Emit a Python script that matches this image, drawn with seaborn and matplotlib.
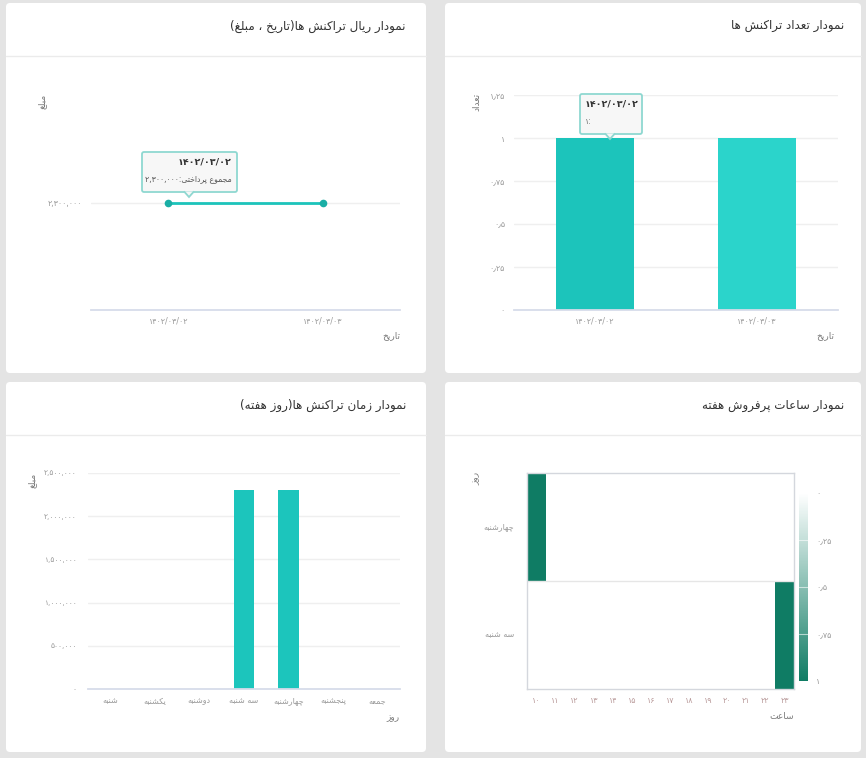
import matplotlib
matplotlib.use("Agg")
import matplotlib.pyplot as plt
from matplotlib.patches import FancyBboxPatch, Polygon
from matplotlib.colors import LinearSegmentedColormap
import seaborn as sns
import pandas as pd
import numpy as np

# ---------------- data ----------------
dates = ["۱۴۰۲/۰۳/۰۲", "۱۴۰۲/۰۳/۰۳"]
amount_by_date = [2300000, 2300000]
count_by_date = [1, 1]
weekdays = ["شنبه", "یکشنبه", "دوشنبه", "سه شنبه", "چهارشنبه", "پنجشنبه", "جمعه"]
amount_by_weekday = [0, 0, 0, 2300000, 2300000, 0, 0]
heat_days = ["چهارشنبه", "سه شنبه"]
heat_hours = [10, 11, 12, 13, 14, 15, 16, 17, 18, 19, 20, 21, 22, 23]
heat_values = [
    [1, 0, 0, 0, 0, 0, 0, 0, 0, 0, 0, 0, 0, 0],
    [0, 0, 0, 0, 0, 0, 0, 0, 0, 0, 0, 0, 0, 1],
]
count_ticks = [0, 0.25, 0.5, 0.75, 1, 1.25]
amount_ticks = [0, 500000, 1000000, 1500000, 2000000, 2500000]
cbar_ticks = [0, 0.25, 0.5, 0.75, 1]

titles = {
    "tl": "نمودار ریال تراکنش ها(تاریخ ، مبلغ)",
    "tr": "نمودار تعداد تراکنش ها",
    "bl": "نمودار زمان تراکنش ها(روز هفته)",
    "br": "نمودار ساعات پرفروش هفته",
}

# ---------------- minimal Persian shaping ----------------
FORMS = {
    'ا': ('\uFE8D', '\uFE8E', None, None),
    'آ': ('\uFE81', '\uFE82', None, None),
    'ب': ('\uFE8F', '\uFE90', '\uFE91', '\uFE92'),
    'پ': ('\uFB56', '\uFB57', '\uFB58', '\uFB59'),
    'ت': ('\uFE95', '\uFE96', '\uFE97', '\uFE98'),
    'ث': ('\uFE99', '\uFE9A', '\uFE9B', '\uFE9C'),
    'ج': ('\uFE9D', '\uFE9E', '\uFE9F', '\uFEA0'),
    'چ': ('\uFB7A', '\uFB7B', '\uFB7C', '\uFB7D'),
    'ح': ('\uFEA1', '\uFEA2', '\uFEA3', '\uFEA4'),
    'خ': ('\uFEA5', '\uFEA6', '\uFEA7', '\uFEA8'),
    'د': ('\uFEA9', '\uFEAA', None, None),
    'ذ': ('\uFEAB', '\uFEAC', None, None),
    'ر': ('\uFEAD', '\uFEAE', None, None),
    'ز': ('\uFEAF', '\uFEB0', None, None),
    'ژ': ('\uFB8A', '\uFB8B', None, None),
    'س': ('\uFEB1', '\uFEB2', '\uFEB3', '\uFEB4'),
    'ش': ('\uFEB5', '\uFEB6', '\uFEB7', '\uFEB8'),
    'ص': ('\uFEB9', '\uFEBA', '\uFEBB', '\uFEBC'),
    'ع': ('\uFEC9', '\uFECA', '\uFECB', '\uFECC'),
    'غ': ('\uFECD', '\uFECE', '\uFECF', '\uFED0'),
    'ف': ('\uFED1', '\uFED2', '\uFED3', '\uFED4'),
    'ق': ('\uFED5', '\uFED6', '\uFED7', '\uFED8'),
    'ک': ('\uFB8E', '\uFB8F', '\uFB90', '\uFB91'),
    'گ': ('\uFB92', '\uFB93', '\uFB94', '\uFB95'),
    'ل': ('\uFEDD', '\uFEDE', '\uFEDF', '\uFEE0'),
    'م': ('\uFEE1', '\uFEE2', '\uFEE3', '\uFEE4'),
    'ن': ('\uFEE5', '\uFEE6', '\uFEE7', '\uFEE8'),
    'ه': ('\uFEE9', '\uFEEA', '\uFEEB', '\uFEEC'),
    'و': ('\uFEED', '\uFEEE', None, None),
    'ی': ('\uFBFC', '\uFBFD', '\uFBFE', '\uFBFF'),
}
LTR = set("0123456789۰۱۲۳۴۵۶۷۸۹,./٫٬")


def fa(text):
    if not any(c in FORMS for c in text):
        return text
    out = []
    n = len(text)
    for i, c in enumerate(text):
        if c not in FORMS:
            out.append(c)
            continue
        prev = text[i - 1] if i > 0 else None
        nxt = text[i + 1] if i + 1 < n else None
        jp = prev in FORMS and FORMS[prev][2] is not None
        jn = nxt in FORMS and FORMS[c][2] is not None
        iso, fin, ini, med = FORMS[c]
        if jp and jn:
            out.append(med)
        elif jp:
            out.append(fin)
        elif jn:
            out.append(ini)
        else:
            out.append(iso)
    s = "".join(out)
    runs = []
    for ch in s:
        kind = ch in LTR
        if runs and runs[-1][0] == kind:
            runs[-1][1].append(ch)
        else:
            runs.append([kind, [ch]])
    res = []
    for kind, chars in reversed(runs):
        if kind:
            res.append("".join(chars))
        else:
            swap = {"(": ")", ")": "("}
            res.append("".join(swap.get(c, c) for c in reversed(chars)))
    return "".join(res)


FA_DIG = str.maketrans("0123456789", "۰۱۲۳۴۵۶۷۸۹")


def fnum(v):
    if float(v).is_integer():
        s = f"{int(v):,}"
    else:
        s = f"{v:g}"
    return s.translate(FA_DIG).replace(".", "٫")


# ---------------- figure ----------------
W, H = 866, 758
sns.set_style("white")
plt.rcParams["font.family"] = ["DejaVu Sans"]
fig = plt.figure(figsize=(W / 100, H / 100), dpi=100)
fig.patch.set_facecolor("#e4e4e4")
T = fig.dpi_scale_trans


def P(x, y):
    return (x / 100, (H - y) / 100)


def card(x0, y0, x1, y1, title_x, title):
    fig.patches.append(FancyBboxPatch(P(x0, y1), (x1 - x0) / 100, (y1 - y0) / 100,
                                      boxstyle="round,pad=0,rounding_size=0.04",
                                      transform=T, facecolor="white", edgecolor="none",
                                      zorder=-2))
    fig.lines.append(plt.Line2D([x0 / 100, x1 / 100], [(H - y0 - 53) / 100] * 2,
                                transform=T, color="#ebebeb", lw=1.0, zorder=-1))
    fig.text(*P(title_x, y0 + 23), fa(title), transform=T, ha="right", va="center",
             fontsize=8.6, color="#333333")


card(6, 3, 426, 373, 406, titles["tl"])
card(445, 3, 861, 373, 844, titles["tr"])
card(6, 382, 426, 752, 406, titles["bl"])
card(445, 382, 861, 752, 844, titles["br"])


def add_ax(x0, y0, x1, y1):
    return fig.add_axes([x0 / W, 1 - y1 / H, (x1 - x0) / W, (y1 - y0) / H])


TICK_C = "#9a9a9a"
LAB_C = "#7a7a7a"
GRID_C = "#efefef"
BASE_C = "#d7dcea"
TEAL = "#1cc4bb"


def style_axes(ax, ypad=6.5, size=5.8):
    for s in ["top", "right", "left"]:
        ax.spines[s].set_visible(False)
    ax.spines["bottom"].set_color(BASE_C)
    ax.spines["bottom"].set_linewidth(1.3)
    ax.tick_params(axis="both", length=0, labelsize=size, labelcolor=TICK_C)
    ax.tick_params(axis="y", pad=ypad)
    ax.tick_params(axis="x", pad=5)
    ax.grid(axis="y", color=GRID_C, lw=1.0)
    ax.set_axisbelow(True)
    ax.set_facecolor("none")


# ---- top-left: line chart ----
ax1 = add_ax(91, 95, 400, 310)
df1 = pd.DataFrame({"date": dates, "amount": amount_by_date})
sns.lineplot(data=df1, x="date", y="amount", ax=ax1, color=TEAL, lw=2,
             marker="o", markersize=5.5, markeredgewidth=0, sort=False)
for ln in ax1.lines:
    ln.set_markerfacecolor("#1aaea5")
ax1.set_xlim(-0.5, 1.5)
ax1.set_ylim(amount_by_date[0] - 1, amount_by_date[0] + 1)
ax1.set_yticks([amount_by_date[0]])
ax1.set_yticklabels([fnum(amount_by_date[0])])
style_axes(ax1)
ax1.set_xlabel(fa("تاریخ"), fontsize=6.5, color=LAB_C, ha="right")
ax1.xaxis.set_label_coords(1.0, -0.10)
ax1.set_ylabel(fa("مبلغ"), fontsize=6.5, color=LAB_C)
ax1.yaxis.set_label_coords(-0.145, 0.97)

# ---- top-right: count bar chart ----
ax2 = add_ax(514, 95, 838, 310)
df2 = pd.DataFrame({"date": dates, "count": count_by_date})
sns.barplot(data=df2, x="date", y="count", hue="date", palette=["#1cc4bb", "#2bd4cb"],
            width=0.48, ax=ax2, legend=False, linewidth=0, saturation=1)
ax2.set_ylim(0, 1.25)
ax2.set_yticks(count_ticks)
ax2.set_yticklabels([fnum(v) for v in count_ticks])
style_axes(ax2)
ax2.set_xlabel(fa("تاریخ"), fontsize=6.5, color=LAB_C, ha="right")
ax2.xaxis.set_label_coords(0.99, -0.10)
ax2.set_ylabel(fa("تعداد"), fontsize=6.5, color=LAB_C)
ax2.yaxis.set_label_coords(-0.10, 0.97)

# ---- bottom-left: weekday bar chart ----
ax3 = add_ax(88, 473, 400, 689)
df3 = pd.DataFrame({"day": [fa(d) for d in weekdays], "amount": amount_by_weekday})
sns.barplot(data=df3, x="day", y="amount", color="#1cc5bc", width=0.47, ax=ax3,
            linewidth=0, saturation=1)
ax3.set_ylim(0, 2500000)
ax3.set_yticks(amount_ticks)
ax3.set_yticklabels([fnum(v) for v in amount_ticks])
style_axes(ax3, ypad=8, size=5.4)
ax3.tick_params(axis="x", labelsize=5.8)
ax3.set_xlabel(fa("روز"), fontsize=6.5, color=LAB_C, ha="right")
ax3.xaxis.set_label_coords(1.0, -0.11)
ax3.set_ylabel(fa("مبلغ"), fontsize=6.5, color=LAB_C)
ax3.yaxis.set_label_coords(-0.165, 0.965)

# ---- bottom-right: heatmap ----
ax4 = add_ax(527, 473, 794, 689)
cax = add_ax(799, 493, 808, 681)
df4 = pd.DataFrame(heat_values, index=[fa(d) for d in heat_days],
                   columns=[fnum(h) for h in heat_hours])
cmap = LinearSegmentedColormap.from_list("g", ["#ffffff", "#0f7c64"])
sns.heatmap(df4, cmap=cmap, vmin=0, vmax=1, ax=ax4, cbar_ax=cax, linewidths=0)
for s in ax4.spines.values():
    s.set_visible(True)
    s.set_color("#d4d7dd")
    s.set_linewidth(1.0)
ax4.axhline(1, color="#e6e6e6", lw=1)
ax4.tick_params(axis="both", length=0, labelsize=5.8, labelcolor=TICK_C)
ax4.tick_params(axis="y", pad=9, rotation=0)
ax4.tick_params(axis="x", pad=5, rotation=0)
for t in ax4.get_xticklabels():
    t.set_color("#b99a9a")
ax4.set_xlabel(fa("ساعت"), fontsize=6.5, color=LAB_C, ha="right")
ax4.xaxis.set_label_coords(1.0, -0.105)
ax4.set_ylabel(fa("روز"), fontsize=6.5, color=LAB_C)
ax4.yaxis.set_label_coords(-0.175, 0.975)
cax.invert_yaxis()
cax.set_yticks(cbar_ticks)
cax.set_yticklabels([fnum(v) for v in cbar_ticks])
cax.tick_params(length=0, labelsize=5.8, labelcolor=TICK_C, pad=6)
for v in cbar_ticks[1:-1]:
    cax.axhline(v, color="white", lw=0.8, alpha=0.6)
for s in cax.spines.values():
    s.set_visible(False)
cb = ax4.collections[0].colorbar
cb.outline.set_visible(False)


# ---------------- tooltips ----------------
def tooltip(x0, y0, x1, y1, tipx, tipy):
    fig.patches.append(FancyBboxPatch(P(x0, y1), (x1 - x0) / 100, (y1 - y0) / 100,
                                      boxstyle="round,pad=0,rounding_size=0.02",
                                      transform=T, facecolor="#f7f7f7",
                                      edgecolor="#8fd8d1", lw=1.3, zorder=5))
    fig.patches.append(Polygon([P(tipx - 5, y1 - 0.6), P(tipx, tipy), P(tipx + 5, y1 - 0.6)],
                               closed=False, transform=T, facecolor="#f7f7f7",
                               edgecolor="#8fd8d1", lw=1.3, zorder=6))


tooltip(142, 152, 237, 192, 189, 197)
fig.text(*P(232, 162), dates[0], transform=T, ha="right", va="center",
         fontsize=6.8, fontweight="bold", color="#333333", zorder=7)
fig.text(*P(232, 179), fa("مجموع پرداختی:" + fnum(amount_by_date[0])), transform=T,
         ha="right", va="center", fontsize=5.6, color="#555555", zorder=7)

tooltip(580, 94, 642, 134, 610, 139)
fig.text(*P(585, 104), dates[0], transform=T, ha="left", va="center",
         fontsize=6.8, fontweight="bold", color="#333333", zorder=7)
fig.text(*P(585, 121), fnum(count_by_date[0]) + ":", transform=T, ha="left", va="center",
         fontsize=5.8, color="#777777", zorder=7)

fig.savefig("out.png", dpi=100, facecolor=fig.get_facecolor())
